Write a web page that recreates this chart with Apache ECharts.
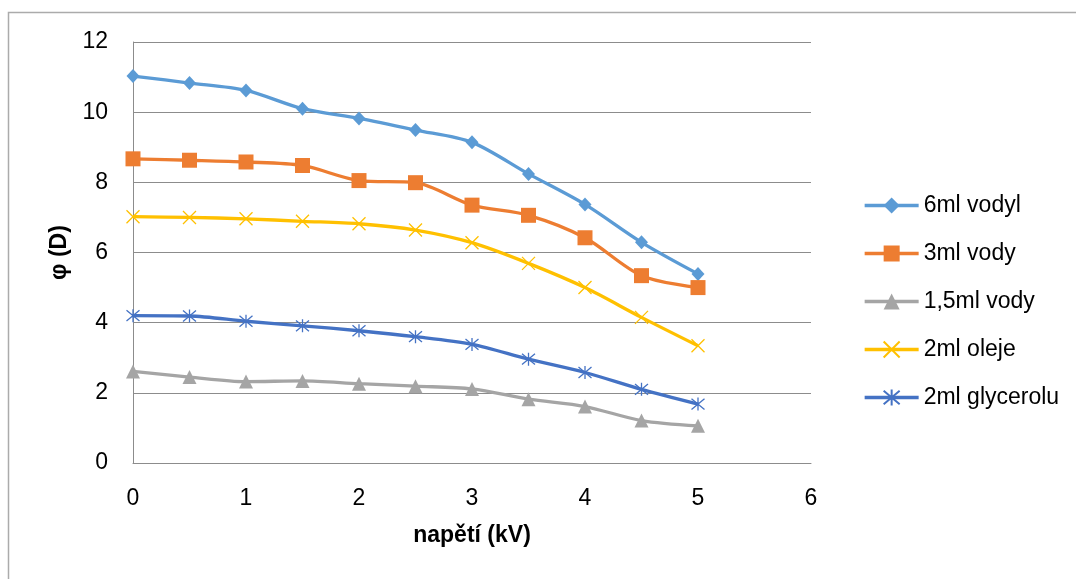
<!DOCTYPE html>
<html>
<head>
<meta charset="utf-8">
<script src="https://cdn.jsdelivr.net/npm/echarts@6/dist/echarts.min.js"></script>
<style>
html,body{margin:0;padding:0;background:#fff;}
#chart{width:1076px;height:579px;}
</style>
</head>
<body>
<div id="chart"></div>
<script>
var voltage = [0, 0.5, 1, 1.5, 2, 2.5, 3, 3.5, 4, 4.5, 5];
var water6 = [11.03, 10.83, 10.62, 10.10, 9.82, 9.49, 9.14, 8.24, 7.37, 6.29, 5.39];
var water3 = [8.67, 8.63, 8.58, 8.48, 8.05, 7.99, 7.35, 7.06, 6.42, 5.34, 5.00];
var water15 = [2.61, 2.45, 2.32, 2.34, 2.26, 2.19, 2.11, 1.82, 1.61, 1.21, 1.06];
var oil2 = [7.02, 7.00, 6.96, 6.89, 6.82, 6.64, 6.28, 5.69, 5.00, 4.15, 3.34];
var glycerol2 = [4.20, 4.19, 4.04, 3.91, 3.77, 3.60, 3.38, 2.96, 2.58, 2.10, 1.68];
var seriesNames = ['6ml vodyl', '3ml vody', '1,5ml vody', '2ml oleje', '2ml glycerolu'];
var xTicks = [0, 1, 2, 3, 4, 5, 6];
var yTicks = [0, 2, 4, 6, 8, 10, 12];

function pairs(arr) { return voltage.map(function (v, i) { return [v, arr[i]]; }); }

var FONT = 'Liberation Sans';
var crossPath = 'path://M0,0L10,10M10,0L0,10';
var starPath = 'path://M0,0L10,10M10,0L0,10M5,-1L5,11';

function mkSeries(name, data, color, symbol, size, stroke) {
  var s = {
    name: name,
    type: 'line',
    data: pairs(data),
    smooth: 0.3,
    symbol: symbol,
    symbolSize: size,
    showAllSymbol: true,
    lineStyle: { color: color, width: 3.3 },
    itemStyle: { color: color },
    emphasis: { disabled: true },
    z: 3
  };
  if (stroke) {
    s.itemStyle = { color: 'rgba(0,0,0,0)', borderColor: color, borderWidth: 1.3 };
  }
  return s;
}

var chart = echarts.init(document.getElementById('chart'), null, { renderer: 'canvas' });
chart.setOption({
  animation: false,
  backgroundColor: '#ffffff',
  textStyle: { fontFamily: FONT },
  graphic: [{
    type: 'rect',
    shape: { x: 8.5, y: 12.5, width: 1100, height: 600 },
    style: { fill: 'none', stroke: '#ababab', lineWidth: 1.5 },
    silent: true
  }],
  grid: { left: 133, right: 265, top: 42, bottom: 116 },
  legend: {
    orient: 'vertical',
    left: 858,
    top: 189,
    itemWidth: 54,
    itemHeight: 20,
    itemGap: 25,
    data: seriesNames,
    lineStyle: { width: 3.3 },
    textStyle: { fontFamily: FONT, fontSize: 23, color: '#000', lineHeight: 23 }
  },
  xAxis: {
    type: 'value',
    min: xTicks[0],
    max: xTicks[xTicks.length - 1],
    interval: 1,
    name: 'napětí (kV)',
    nameLocation: 'middle',
    nameGap: 61,
    nameTextStyle: { fontFamily: FONT, fontSize: 23, fontWeight: 'bold', color: '#000' },
    axisLine: { show: true, lineStyle: { color: '#8c8c8c', width: 1 } },
    axisTick: { show: false },
    splitLine: { show: false },
    axisLabel: { fontFamily: FONT, fontSize: 23, color: '#000', margin: 24 }
  },
  yAxis: {
    type: 'value',
    min: yTicks[0],
    max: yTicks[yTicks.length - 1],
    interval: 2,
    name: 'φ (D)',
    nameLocation: 'middle',
    nameGap: 61,
    nameRotate: 90,
    nameTextStyle: { fontFamily: FONT, fontSize: 23, fontWeight: 'bold', color: '#000' },
    axisLine: { show: true, lineStyle: { color: '#8c8c8c', width: 1 } },
    axisTick: { show: false },
    splitLine: { show: true, lineStyle: { color: '#8c8c8c', width: 1 } },
    axisLabel: { fontFamily: FONT, fontSize: 23, color: '#000', margin: 25 }
  },
  series: [
    mkSeries(seriesNames[0], water6, '#5B9BD5', 'diamond', [13, 14], false),
    mkSeries(seriesNames[1], water3, '#ED7D31', 'rect', 15, false),
    mkSeries(seriesNames[2], water15, '#A5A5A5', 'triangle', 14, false),
    mkSeries(seriesNames[3], oil2, '#FFC000', crossPath, 13, true),
    mkSeries(seriesNames[4], glycerol2, '#4472C4', starPath, 13, true)
  ]
});
</script>
</body>
</html>
